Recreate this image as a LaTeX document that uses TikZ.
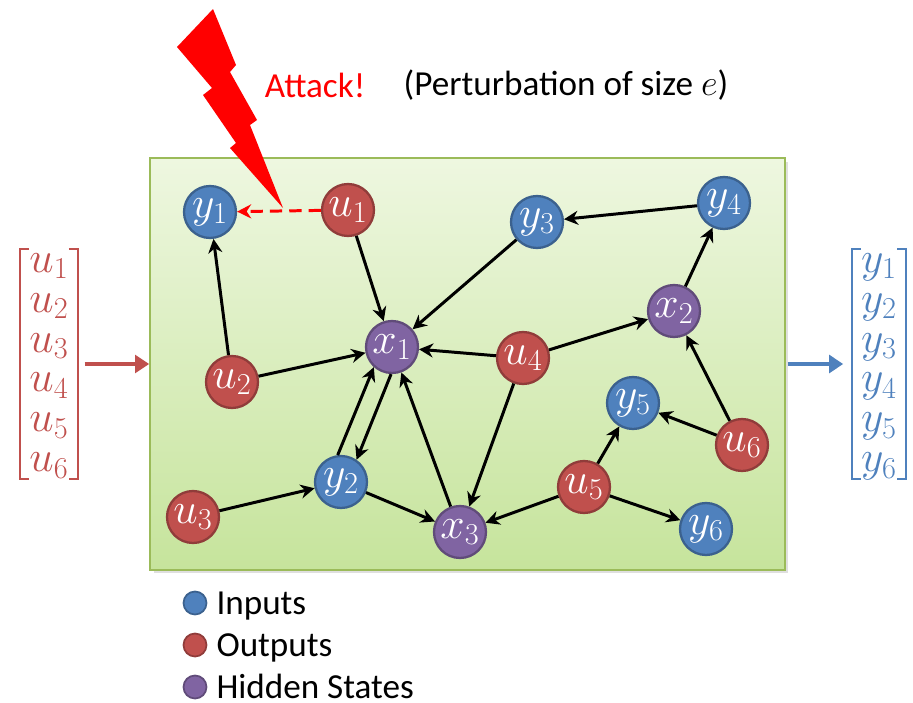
\documentclass[tikz,border=0pt]{standalone}
\usepackage{amsmath}
\usepackage{fontspec}
\setmainfont{Carlito}
\usetikzlibrary{positioning,arrows.meta,shadows}
\usepackage{xcolor}
\definecolor{inblue}{HTML}{4F81BD}
\definecolor{outred}{HTML}{C0504D}
\definecolor{hidpurple}{HTML}{8064A2}
\definecolor{boxtop}{HTML}{EEF7E0}
\definecolor{boxbot}{HTML}{C6E49C}
\definecolor{boxline}{HTML}{9BBB59}

\begin{document}
\begin{tikzpicture}[
    x=0.02cm, y=-0.02cm,
    dot/.style={
        circle,
        minimum size=1.04cm,
        inner sep=0pt,
        line width=1.3pt,
        text=white,
        font=\fontsize{23}{24}\selectfont,
    },
    inp/.style={dot, fill=inblue, draw=inblue!75!black},
    outp/.style={dot, fill=outred, draw=outred!75!black},
    hid/.style={dot, fill=hidpurple, draw=hidpurple!75!black},
    legdot/.style={minimum size=0.46cm, line width=1pt},
    legtext/.style={font=\fontsize{20}{24}\selectfont, inner sep=0pt,
        text height=13pt, text depth=0pt},
    link/.style={line width=1.7pt, -{Stealth[length=8pt,width=8pt]}},
    bigarrow/.style={line width=2.8pt, -{Triangle[length=8pt,width=10pt]}},
    vec/.style={font=\fontsize{23}{22.7}\selectfont, inner xsep=5pt, inner ysep=-3pt},
    vecbracket/.style={line width=1.1pt},
]
\useasboundingbox (0,0) rectangle (913,703);

% system box
\node[draw=boxline, line width=1pt, top color=boxtop, bottom color=boxbot,
      minimum width=12.7cm, minimum height=8.24cm, inner sep=0pt,
      drop shadow={opacity=0.25, shadow xshift=2pt, shadow yshift=-2pt}]
      (sys) at (467.5,364) {};

% attack
\fill[red] (213,9) -- (236,65) -- (230,72) -- (257,120) -- (250,125)
    -- (283,208) -- (230,148) -- (236,143) -- (203,95) -- (212,88)
    -- (177,47) -- cycle;
\node[text=red, font=\fontsize{20}{24}\selectfont] (atk) at (315,85) {Attack!};
\node[font=\fontsize{20}{24}\selectfont] (pert) at (566,85) {(Perturbation of size $e$)};

% nodes
\node[inp] (y1) at (210,212) {$y_1$};
\node[outp] (u1) at (348,210) {$u_1$};
\node[inp] (y3) at (537,222) {$y_3$};
\node[inp] (y4) at (724,203) {$y_4$};
\node[hid] (x2) at (674,311) {$x_2$};
\node[hid] (x1) at (392,347) {$x_1$};
\node[outp] (u4) at (523,358) {$u_4$};
\node[outp] (u2) at (232,382) {$u_2$};
\node[inp] (y5) at (633,403) {$y_5$};
\node[outp] (u6) at (742,445) {$u_6$};
\node[inp] (y2) at (341,482) {$y_2$};
\node[outp] (u5) at (584,487) {$u_5$};
\node[outp] (u3) at (193,517) {$u_3$};
\node[hid] (x3) at (460,532) {$x_3$};
\node[inp] (y6) at (706,529) {$y_6$};

% edges
\draw[red, line width=1.7pt, dash pattern=on 7pt off 4pt,
      -{Stealth[length=8pt,width=8pt]}] (u1) -- (y1);
\draw[link] (u1) -- (x1);
\draw[link] (y3) -- (x1);
\draw[link] (y4) -- (y3);
\draw[link] (x2) -- (y4);
\draw[link] (u4) -- (x2);
\draw[link] (u4) -- (x1);
\draw[link] (u4) -- (x3);
\draw[link] (u2) -- (y1);
\draw[link] (u2) -- (x1);
\draw[link] (y2.97) -- (x1.228);
\draw[link] (x1.268) -- (y2.55);
\draw[link] (x3) -- (x1);
\draw[link] (u3) -- (y2);
\draw[link] (y2) -- (x3);
\draw[link] (u5) -- (x3);
\draw[link] (u5) -- (y5);
\draw[link] (u5) -- (y6);
\draw[link] (u6) -- (y5);
\draw[link] (u6) -- (x2);

% input and output vectors
\node[vec, text=outred] (uvec) at (49,364)
    {$\begin{matrix}u_1\\u_2\\u_3\\u_4\\u_5\\u_6\end{matrix}$};
\node[vec, text=inblue] (yvec) at (879,364)
    {$\begin{matrix}y_1\\y_2\\y_3\\y_4\\y_5\\y_6\end{matrix}$};
\draw[vecbracket, outred] ([xshift=5pt]uvec.north west) -- (uvec.north west)
    -- (uvec.south west) -- ++(5pt,0);
\draw[vecbracket, outred] ([xshift=-5pt]uvec.north east) -- (uvec.north east)
    -- (uvec.south east) -- ++(-5pt,0);
\draw[vecbracket, inblue] ([xshift=5pt]yvec.north west) -- (yvec.north west)
    -- (yvec.south west) -- ++(5pt,0);
\draw[vecbracket, inblue] ([xshift=-5pt]yvec.north east) -- (yvec.north east)
    -- (yvec.south east) -- ++(-5pt,0);
\draw[bigarrow, outred, shorten <=4pt] (uvec.east) -- (sys.west);
\draw[bigarrow, inblue, shorten <=1pt, shorten >=5pt] (sys.east) -- (yvec.west);

% legend
\node[inp, legdot] (lgin) at (195,603) {};
\node[outp, legdot] (lgout) at (195,645) {};
\node[hid, legdot] (lghid) at (195,687) {};
\node[legtext, right=5pt of lgin] {Inputs};
\node[legtext, right=5pt of lgout] {Outputs};
\node[legtext, right=5pt of lghid] {Hidden States};

\end{tikzpicture}
\end{document}
